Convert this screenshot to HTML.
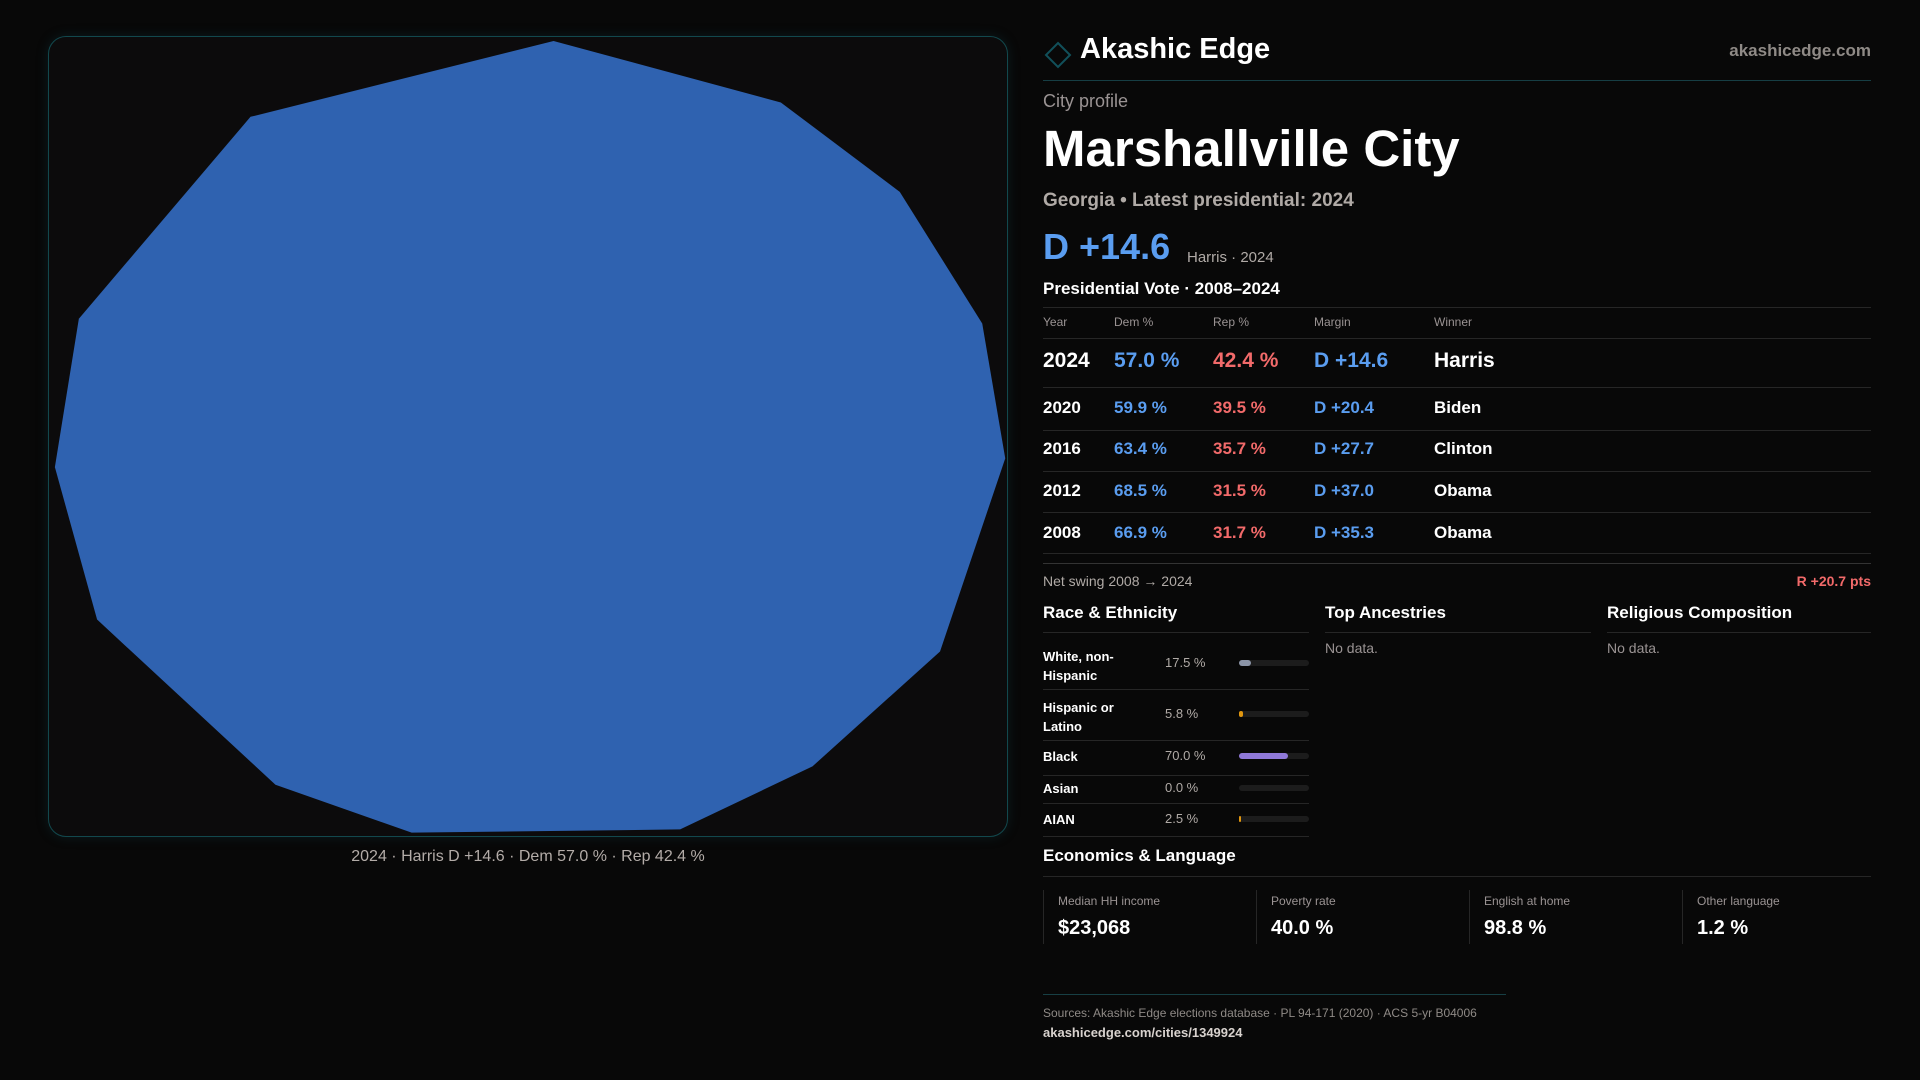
<!DOCTYPE html>
<html><head><meta charset="utf-8"><style>
*{margin:0;padding:0;box-sizing:border-box}
body{width:1920px;height:1080px;background:#080808;font-family:"Liberation Sans",sans-serif;color:#fff;position:relative;overflow:hidden}
.a{position:absolute;white-space:nowrap}
.g{color:#9a9393}
.blue{color:#5a9df0}.red{color:#f26a6a}
.ln{position:absolute;height:1px;background:#262626}
</style></head><body>
<div class="a" style="left:48px;top:36px;width:960px;height:801px;border:1px solid #12484d;border-radius:18px;background:#0c0b0c;box-shadow:0 0 12px rgba(20,80,90,.25)"></div>
<svg class="a" id="map" style="left:0;top:0" width="1010" height="840"></svg>
<div class="a g" style="left:528px;top:848px;transform:translateX(-50%);font-size:16px;color:#b3aca8">2024 · Harris D +14.6 · Dem 57.0 % · Rep 42.4 %</div>

<svg class="a" style="left:1043px;top:40px" width="30" height="30"><path d="M15 3 L27 15 L15 27 L3 15Z" fill="none" stroke="#11505a" stroke-width="2"/></svg>
<div class="a" style="left:1080px;top:33px;font-size:29px;font-weight:bold">Akashic Edge</div>
<div class="a g" style="right:49px;top:41px;font-size:17px;font-weight:bold;color:#8f8a86">akashicedge.com</div>
<div class="ln" style="left:1043px;top:80px;width:828px;background:#163e44"></div>
<div class="a g" style="left:1043px;top:91px;font-size:18px">City profile</div>
<div class="a" style="left:1043px;top:119px;font-size:51px;font-weight:bold">Marshallville City</div>
<div class="a g" style="left:1043px;top:190px;font-size:19px;font-weight:bold;color:#b0aaa6">Georgia • Latest presidential: 2024</div>
<div class="a blue" style="left:1043px;top:226px;font-size:36px;font-weight:bold">D +14.6</div>
<div class="a g" style="left:1187px;top:249px;font-size:15px;color:#b0aaa6">Harris · 2024</div>
<div class="a" style="left:1043px;top:279px;font-size:17px;font-weight:bold">Presidential Vote · 2008–2024</div>
<div class="ln" style="left:1043px;top:307px;width:828px"></div>
<div id="tbl"></div>
<div class="ln" style="left:1043px;top:563px;width:828px;background:#333"></div>
<div class="a g" style="left:1043px;top:573px;font-size:14px;color:#b0aaa6">Net swing 2008 → 2024</div>
<div class="a red" style="right:49px;top:573px;font-size:14px;font-weight:bold">R +20.7 pts</div>

<div class="a" style="left:1043px;top:603px;font-size:17px;font-weight:bold">Race &amp; Ethnicity</div>
<div class="a" style="left:1325px;top:603px;font-size:17px;font-weight:bold">Top Ancestries</div>
<div class="a" style="left:1607px;top:603px;font-size:17px;font-weight:bold">Religious Composition</div>
<div class="ln" style="left:1043px;top:632px;width:266px"></div>
<div class="ln" style="left:1325px;top:632px;width:266px"></div>
<div class="ln" style="left:1607px;top:632px;width:264px"></div>
<div class="a g" style="left:1325px;top:640px;font-size:14px">No data.</div>
<div class="a g" style="left:1607px;top:640px;font-size:14px">No data.</div>
<div id="race"></div>

<div class="a" style="left:1043px;top:846px;font-size:17px;font-weight:bold">Economics &amp; Language</div>
<div class="ln" style="left:1043px;top:876px;width:828px"></div>
<div id="cards"></div>
<div class="ln" style="left:1043px;top:994px;width:463px;background:#173f44"></div>
<div class="a g" style="left:1043px;top:1006px;font-size:12px;color:#8f8a86">Sources: Akashic Edge elections database · PL 94-171 (2020) · ACS 5-yr B04006</div>
<div class="a" style="left:1043px;top:1025px;font-size:13px;font-weight:bold;color:#d8d2ce">akashicedge.com/cities/1349924</div>

<script>
// map outline vertices in normalized 0-100 space
const mapX=[52.3,76.0,88.4,97.0,99.4,92.6,79.3,65.5,37.5,23.3,4.7,0.3,2.8,20.7];
const mapY=[0.0,7.7,18.9,35.4,52.3,76.5,90.9,98.8,99.2,93.2,72.5,53.4,34.8,9.5];
const years=['2024','2020','2016','2012','2008'];
const dem=[57.0,59.9,63.4,68.5,66.9];
const rep=[42.4,39.5,35.7,31.5,31.7];
const margins=[14.6,20.4,27.7,37.0,35.3];
const winners=['Harris','Biden','Clinton','Obama','Obama'];
const raceLabels=['White, non-\nHispanic','Hispanic or\nLatino','Black','Asian','AIAN'];
const raceVals=[17.5,5.8,70.0,0.0,2.5];
const raceColors=['#8c95a8','#e0960f','#8f78d8','#666','#e0960f'];
const econLabels=['Median HH income','Poverty rate','English at home','Other language'];
const econVals=['$23,068','40.0 %','98.8 %','1.2 %'];

const NS='http://www.w3.org/2000/svg';
const sx=v=>52+v*9.59, sy=v=>41+v*7.98;
const svg=document.getElementById('map');
const poly=document.createElementNS(NS,'polygon');
poly.setAttribute('points',mapX.map((x,i)=>sx(x)+','+sy(mapY[i])).join(' '));
poly.setAttribute('fill','#2f62b0');


svg.appendChild(poly);

function div(parent,css,txt){const d=document.createElement('div');d.className='a';d.style.cssText=css;if(txt!=null)d.textContent=txt;parent.appendChild(d);return d;}
const T=document.getElementById('tbl');
const cols=[1043,1114,1213,1314,1434];
['Year','Dem %','Rep %','Margin','Winner'].forEach((h,i)=>{
 const d=div(T,`left:${cols[i]}px;top:315px;font-size:12px;color:#9a9393`,h);
 
 
});
div(T,'left:1043px;top:338px;width:828px;height:1px;background:#262626');
const rowY=[349,398,439,481,523];
years.forEach((y,i)=>{
 const fs=i==0?21:17, top=rowY[i];
 const m=margins[i];
 const vals=[y,dem[i].toFixed(1)+' %',rep[i].toFixed(1)+' %',(m>=0?'D +':'R +')+Math.abs(m).toFixed(1),winners[i]];
 const colors=['#fff','#5a9df0','#f26a6a',m>=0?'#5a9df0':'#f26a6a','#fff'];
 vals.forEach((v,j)=>{
  const d=div(T,`left:${cols[j]}px;top:${top}px;font-size:${fs}px;font-weight:bold;color:${colors[j]}`,v);
  
  
 });
 const lt=[387,430,471,512,553][i];
 div(T,`left:1043px;top:${lt}px;width:828px;height:1px;background:#262626`);
});

const R=document.getElementById('race');
const rTop=[652,703,747,779,810], rLine=[689,740,775,803,836];
raceLabels.forEach((l,i)=>{
 const two=l.includes('\n');
 const d=div(R,`left:1043px;top:${two?rTop[i]-5:rTop[i]}px;font-size:13px;font-weight:bold;line-height:19px;white-space:pre`,l);
 
 
 const cy=two?rTop[i]+11:rTop[i]+9;
 const v=div(R,`left:1165px;top:${cy-8}px;font-size:13px;color:#b0aaa6`,raceVals[i].toFixed(1)+' %');
 
 
 const tr=div(R,`left:1239px;top:${cy-3}px;width:70px;height:6px;border-radius:3px;background:#1c1c1c`);
 
 
 const b=div(R,`left:1239px;top:${cy-3}px;width:${Math.max(70*raceVals[i]/100,raceVals[i]>0?2:0)}px;height:6px;border-radius:3px;background:${raceColors[i]}`);
 
 
 div(R,`left:1043px;top:${rLine[i]}px;width:266px;height:1px;background:#262626`);
});

const C=document.getElementById('cards');
econLabels.forEach((l,i)=>{
 const x=1043+i*213;
 const c=div(C,`left:${x}px;top:890px;width:200px;height:54px;border-left:1px solid #262626`);
 
 
 const a=div(C,`left:${x+15}px;top:894px;font-size:12px;color:#9a9393`,l);
 
 
 const b=div(C,`left:${x+15}px;top:917px;font-size:20px;font-weight:bold`,econVals[i]);
 
 
});
</script>
</body></html>
